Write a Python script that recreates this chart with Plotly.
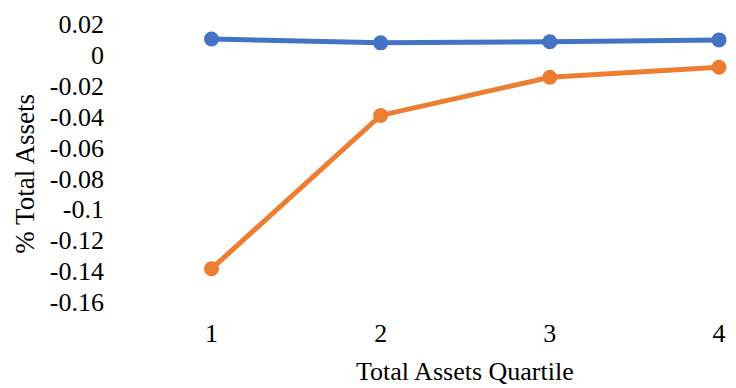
import plotly.graph_objects as go

quartiles = [1, 2, 3, 4]
series_blue = [0.0103, 0.0078, 0.0085, 0.0097]
series_orange = [-0.1385, -0.0392, -0.0145, -0.0080]

y_tick_vals = [0.02, 0, -0.02, -0.04, -0.06, -0.08, -0.1, -0.12, -0.14, -0.16]
y_tick_text = ["0.02", "0", "-0.02", "-0.04", "-0.06", "-0.08", "-0.1", "-0.12", "-0.14", "-0.16"]
x_tick_text = ["1", "2", "3", "4"]

FONT = "Liberation Serif, Times New Roman, serif"
TICK_SIZE = 26
TITLE_SIZE = 26

fig = go.Figure()
for vals, color in [(series_blue, "#4472C4"), (series_orange, "#ED7D31")]:
    fig.add_trace(go.Scatter(
        x=quartiles, y=vals, mode="lines+markers",
        line=dict(color=color, width=5),
        marker=dict(color=color, size=15),
        cliponaxis=False, showlegend=False,
    ))

W, H = 736, 388
PLOT_LEFT, PLOT_RIGHT = 107, 726
PLOT_TOP, PLOT_BOTTOM = 19, 302
X_MIN, X_MAX = 0.3824, 4.0235


def px_to_paper_x(px):
    return (px - PLOT_LEFT) / (PLOT_RIGHT - PLOT_LEFT)


def px_to_paper_y(py):
    return (PLOT_BOTTOM - py) / (PLOT_BOTTOM - PLOT_TOP)


fig.update_layout(
    width=W, height=H,
    margin=dict(l=PLOT_LEFT, r=W - PLOT_RIGHT, t=PLOT_TOP, b=H - PLOT_BOTTOM),
    paper_bgcolor="white", plot_bgcolor="white",
    font=dict(family=FONT, size=TICK_SIZE, color="black"),
    xaxis=dict(
        range=[X_MIN, X_MAX],
        tickvals=quartiles, ticktext=x_tick_text,
        tickfont=dict(size=TICK_SIZE),
        showgrid=False, zeroline=False, showline=False,
        ticklabelstandoff=13,
    ),
    yaxis=dict(
        range=[-0.16, 0.02],
        tickvals=y_tick_vals, ticktext=y_tick_text,
        tickfont=dict(size=TICK_SIZE),
        showgrid=False, zeroline=False, showline=False,
        ticklabelstandoff=2,
    ),
    annotations=[
        dict(
            text="Total Assets Quartile",
            xref="paper", yref="paper",
            x=(2.5 - X_MIN) / (X_MAX - X_MIN), y=px_to_paper_y(373),
            xanchor="center", yanchor="middle",
            showarrow=False, font=dict(size=TITLE_SIZE),
        ),
        dict(
            text="% Total Assets", textangle=-90,
            xref="paper", yref="paper",
            x=px_to_paper_x(25), y=px_to_paper_y(171),
            xanchor="center", yanchor="middle",
            showarrow=False, font=dict(size=TITLE_SIZE + 1),
        ),
    ],
)

fig.write_html("out.html")
